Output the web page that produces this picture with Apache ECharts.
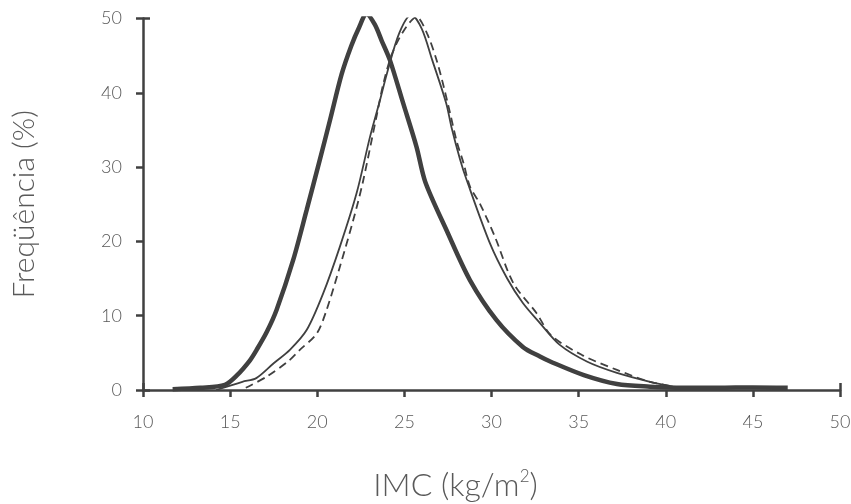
<!DOCTYPE html>
<html>
<head>
<meta charset="utf-8">
<script src="https://cdn.jsdelivr.net/npm/echarts@6/dist/echarts.min.js"></script>
<style>
  html, body { margin: 0; padding: 0; background: #fff; }
  #chart { width: 851px; height: 504px; }
</style>
</head>
<body>
<div id="chart"></div>
<script>
// BMI (x) vs frequency % (y)
const thickX = [11.7, 13.3, 14.7, 15.4, 16.14, 16.52, 17.1, 17.67, 18.62, 19.39, 20.15, 20.73, 21.4, 21.95, 22.4, 22.83, 23.3, 23.7, 24.17, 24.93, 25.7, 26.2, 27.42, 28.76, 30.29, 31.8, 32.78, 33.4, 35.3, 37.2, 39.1, 41, 43, 45, 47];
const thickY = [0.1, 0.3, 0.7, 2.0, 4.0, 5.4, 7.8, 10.8, 17.5, 24.2, 31.0, 36.3, 42.5, 46.3, 48.8, 50.6, 49.2, 47.0, 44.4, 38.6, 32.7, 28.0, 21.5, 14.8, 9.4, 5.8, 4.5, 3.8, 2.0, 0.8, 0.45, 0.3, 0.3, 0.35, 0.3];

const thinX = [14.2, 15.7, 16.5, 17.5, 18.43, 19.4, 20.34, 21.3, 22.26, 23.02, 23.6, 24.0, 24.7, 25.4, 26.0, 26.6, 27.4, 27.7, 28.2, 28.57, 29.9, 30.9, 31.8, 32.78, 33.9, 35.5, 37.2, 39.1, 40.4];
const thinY = [0, 1.1, 1.6, 3.6, 5.4, 8.1, 13.0, 19.3, 26.5, 34.0, 39.0, 42.6, 48, 50.5, 48.6, 44.4, 38.6, 35.4, 31.0, 28.3, 19.8, 15.0, 11.7, 9.0, 6.1, 3.8, 2.3, 1.1, 0.45];

const dashX = [15.9, 17.1, 18.4, 19.0, 19.97, 20.54, 21.3, 22.07, 22.6, 23.4, 23.8, 24.3, 25.0, 25.7, 26.3, 26.9, 27.5, 28.0, 28.4, 28.76, 29.33, 30.2, 31.25, 32.6, 33.4, 35.2, 37.2, 39.1, 40.4];
const dashY = [0.3, 1.8, 4.0, 5.4, 7.6, 10.8, 16.6, 22.9, 27.8, 36.8, 41.3, 45.3, 48.5, 50.2, 48.0, 44.0, 38.5, 33.5, 30.5, 27.4, 25.1, 20.6, 14.4, 10.3, 7.4, 4.7, 2.7, 1.1, 0.5];

const xTicks = [10, 50, 5];
const yTicks = [0, 50, 10];

const ink = '#404040';
const textInk = '#595959';
const labelFont = { color: textInk, fontFamily: 'Lato', fontWeight: 300, fontSize: 18 };

function pairs(xs, ys) { return xs.map((x, i) => [x, ys[i]]); }

const chart = echarts.init(document.getElementById('chart'));
chart.setOption({
  animation: false,
  grid: { left: 143, right: 11, top: 18.5, bottom: 114, outerBoundsMode: 'none' },
  xAxis: [
    {
      type: 'value', min: xTicks[0], max: xTicks[1], interval: xTicks[2],
      axisLine: { show: true, onZero: false, lineStyle: { color: ink, width: 2.5 } },
      axisTick: { show: true, length: 7, lineStyle: { color: ink, width: 2.5 } },
      axisLabel: Object.assign({ margin: 23 }, labelFont),
      splitLine: { show: false },
      name: 'IMC (kg/m{sup|2})',
      nameLocation: 'middle',
      nameGap: 78,
      nameTextStyle: {
        color: textInk, fontFamily: 'Lato', fontWeight: 300, fontSize: 32,
        padding: [0, 72, 0, 0],
        rich: { sup: { fontSize: 17, color: textInk, fontFamily: 'Lato', fontWeight: 300, padding: [0, 0, 18, 0] } }
      }
    },
    {
      // end cap at 50, pointing up
      type: 'value', min: xTicks[0], max: xTicks[1], interval: xTicks[1] - xTicks[0],
      position: 'bottom',
      axisLine: { show: false },
      axisTick: { show: true, inside: true, length: 7, lineStyle: { color: ink, width: 2.5 } },
      axisLabel: { show: false }, splitLine: { show: false }
    }
  ],
  yAxis: [
    {
      type: 'value', min: yTicks[0], max: yTicks[1], interval: yTicks[2],
      axisLine: { show: true, lineStyle: { color: ink, width: 2.5 } },
      axisTick: { show: true, length: 7, lineStyle: { color: ink, width: 2.5 } },
      axisLabel: Object.assign({ margin: 21 }, labelFont),
      splitLine: { show: false },
      name: 'Freqüência (%)',
      nameLocation: 'middle',
      nameGap: 104,
      nameTextStyle: { color: textInk, fontFamily: 'Lato', fontWeight: 300, fontSize: 30 }
    },
    {
      // end cap at 50, pointing right
      type: 'value', min: yTicks[0], max: yTicks[1], interval: yTicks[1] - yTicks[0],
      position: 'left',
      axisLine: { show: false },
      axisTick: { show: true, inside: true, length: 7, lineStyle: { color: ink, width: 2.5 } },
      axisLabel: { show: false }, splitLine: { show: false }
    }
  ],
  series: [
    {
      type: 'line', data: pairs(thinX, thinY), smooth: 0.3, showSymbol: false,
      lineStyle: { color: ink, width: 1.8 }
    },
    {
      type: 'line', data: pairs(dashX, dashY), smooth: 0.3, showSymbol: false,
      lineStyle: { color: ink, width: 1.8, type: [8, 5] }
    },
    {
      type: 'line', data: pairs(thickX, thickY), smooth: 0.3, showSymbol: false,
      lineStyle: { color: ink, width: 4.5 }
    }
  ]
});
</script>
</body>
</html>
